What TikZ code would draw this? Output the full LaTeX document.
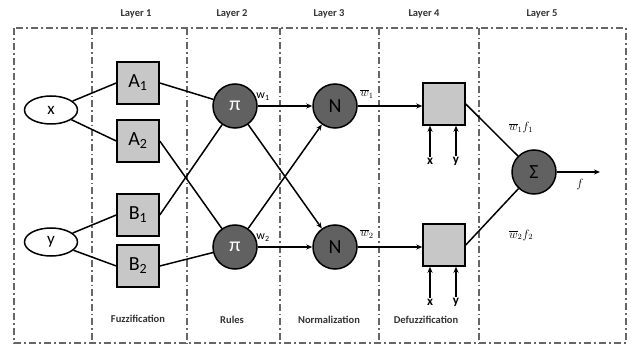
\documentclass[tikz,border=0pt]{standalone}
\usepackage{fontspec}
\setmainfont{Carlito}
\usetikzlibrary{arrows.meta,shapes.geometric}
\begin{document}
\begin{tikzpicture}[x=1pt,y=-1pt,
  lw/.style={line width=1.5pt},
  arr/.style={line width=1.5pt,-{Stealth[length=6pt,width=5pt]}},
  frame/.style={line width=1.6pt, draw=black!60, dash pattern=on 7pt off 3pt on 2pt off 3pt},
  divider/.style={line width=1.2pt, draw=black!60, dash pattern=on 7pt off 3pt on 1.5pt off 3pt},
  inp/.style={draw, ellipse, line width=1.5pt, minimum width=53pt, minimum height=28pt, inner sep=0pt, font=\fontsize{17}{17}\selectfont},
  mf/.style={draw, fill=black!22, line width=1.5pt, minimum size=42pt, inner sep=0pt, font=\fontsize{20}{20}\selectfont},
  op/.style={draw, circle, fill=black!62, line width=1.5pt, minimum size=44pt, inner sep=0pt, font=\fontsize{20}{20}\selectfont},
  dbox/.style={draw, fill=black!22, line width=1.5pt, minimum size=42pt, inner sep=0pt},
  layer/.style={font=\bfseries\fontsize{10.5}{12}\selectfont, text=black!80},
  bottom/.style={font=\bfseries\fontsize{10.5}{12}\selectfont, text=black!80},
  wl/.style={font=\fontsize{12}{13}\selectfont, inner sep=1pt},
  sl/.style={font=\bfseries\fontsize{13}{13}\selectfont, inner sep=1pt}
]
\useasboundingbox (0,0) rectangle (631,347);
% frame and dividers
\draw[frame] (14,28) rectangle (626,343);
\foreach \xx in {92,187,280,379,479} \draw[divider] (\xx,28) -- (\xx,343);
% layer labels
\node[layer] (L1) at (136,14) {Layer 1};
\node[layer] (L2) at (232,14) {Layer 2};
\node[layer] (L3) at (329,14) {Layer 3};
\node[layer] (L4) at (424,14) {Layer 4};
\node[layer] (L5) at (542,14) {Layer 5};
% bottom labels
\node[bottom] (B1l) at (138,319) {Fuzzification};
\node[bottom] (B2l) at (232,320) {Rules};
\node[bottom] (B3l) at (329,320) {Normalization};
\node[bottom] (B4l) at (426,320) {Defuzzification};
% inputs
\node[inp] (x) at (51,110) {x};
\node[inp] (y) at (51,242) {y};
% membership
\node[mf] (A1) at (138,83) {A\textsubscript{1}};
\node[mf] (A2) at (138,141) {A\textsubscript{2}};
\node[mf] (B1) at (138,215) {B\textsubscript{1}};
\node[mf] (B2) at (138,266) {B\textsubscript{2}};
% rules
\node[op, text=white] (P1) at (235,106) {π};
\node[op, text=white] (P2) at (235,247) {π};
% normalization
\node[op] (N1) at (335,106) {N};
\node[op] (N2) at (335,247) {N};
% defuzz
\node[dbox] (D1) at (444,104) {};
\node[dbox] (D2) at (444,245) {};
% sum
\node[op] (S) at (534,172) {Σ};
\coordinate (out) at (600,172);
% connections
\draw[lw] (x) -- (A1.west);
\draw[lw] (x) -- (A2.west);
\draw[lw] (y) -- (B1.west);
\draw[lw] (y) -- (B2.west);
\draw[lw] (A1.east) -- (P1);
\draw[lw] (A2.east) -- (P2);
\draw[lw] (B1.east) -- (P1);
\draw[lw] (B2.east) -- (P2);
\draw[arr] (P1) -- (N1);
\draw[arr] (P1) -- (N2);
\draw[arr] (P2) -- (N1);
\draw[arr] (P2) -- (N2);
\draw[arr] (N1.east) -- (D1.west |- N1.east);
\draw[arr] (N2.east) -- (D2.west |- N2.east);
\draw[lw] (D1.east) -- (S);
\draw[lw] (D2.east) -- (S);
\draw[arr] (S) -- (out);
% x,y inputs to layer 4
\node[sl] (dx1) at (430,161) {x};
\node[sl] (dy1) at (456,161) {y};
\node[sl] (dx2) at (430,302) {x};
\node[sl] (dy2) at (456,302) {y};
\draw[arr] (dx1.north) -- (dx1.north |- D1.south);
\draw[arr] (dy1.north) -- (dy1.north |- D1.south);
\draw[arr] (dx2.north) -- (dx2.north |- D2.south);
\draw[arr] (dy2.north) -- (dy2.north |- D2.south);
% weight labels
\node[wl] (w1) at (263,97) {w\textsubscript{1}};
\node[wl] (w2) at (263,238) {w\textsubscript{2}};
\node[wl] (wb1) at (367,94) {$\overline{w}_1$};
\node[wl] (wb2) at (367,234) {$\overline{w}_2$};
\node[wl] (wf1) at (521,128) {$\overline{w}_1 f_1$};
\node[wl] (wf2) at (521,235) {$\overline{w}_2 f_2$};
\node[wl] (f) at (580,185) {$f$};
\end{tikzpicture}
\end{document}
